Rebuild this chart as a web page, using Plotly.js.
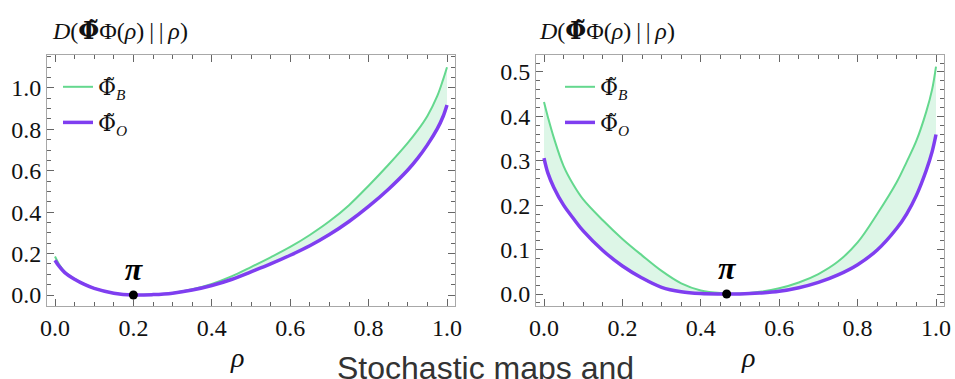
<!DOCTYPE html>
<html>
<head>
<meta charset="utf-8">
<script src="https://cdn.plot.ly/plotly-3.0.1.min.js"></script>
<style>html,body{margin:0;padding:0;background:#fff;}#chart{width:955px;height:379px;}</style>
</head>
<body>
<div id="chart"></div>
<script>
// ---- data ----
const rhoL = [0, 0.01, 0.025, 0.05, 0.075, 0.1, 0.15, 0.2, 0.25, 0.3, 0.35, 0.4, 0.45, 0.5, 0.55, 0.6, 0.65, 0.7, 0.75, 0.8, 0.85, 0.9, 0.925, 0.95, 0.975, 0.99, 1.0];
const leftB = [0.186, 0.150, 0.113, 0.078, 0.052, 0.033, 0.009, 0.0, 0.002, 0.010, 0.028, 0.054, 0.090, 0.135, 0.182, 0.232, 0.290, 0.356, 0.434, 0.528, 0.628, 0.735, 0.795, 0.865, 0.960, 1.040, 1.100];
const leftO = [0.168, 0.140, 0.108, 0.076, 0.051, 0.032, 0.009, 0.0, 0.002, 0.009, 0.024, 0.046, 0.075, 0.112, 0.150, 0.192, 0.238, 0.292, 0.355, 0.428, 0.510, 0.604, 0.660, 0.725, 0.802, 0.862, 0.918];

const rhoR = [0, 0.01, 0.025, 0.05, 0.075, 0.1, 0.15, 0.2, 0.25, 0.3, 0.35, 0.4, 0.45, 0.5, 0.55, 0.6, 0.65, 0.7, 0.75, 0.8, 0.85, 0.9, 0.925, 0.95, 0.975, 0.99, 1.0];
const rightB = [0.432, 0.398, 0.352, 0.288, 0.246, 0.213, 0.166, 0.124, 0.087, 0.052, 0.024, 0.008, 0.002, 0.001, 0.005, 0.013, 0.026, 0.045, 0.073, 0.116, 0.180, 0.252, 0.297, 0.345, 0.410, 0.460, 0.512];
const rightO = [0.306, 0.272, 0.240, 0.200, 0.170, 0.142, 0.098, 0.063, 0.036, 0.015, 0.005, 0.001, 0.0, 0.0, 0.002, 0.006, 0.014, 0.026, 0.043, 0.066, 0.099, 0.148, 0.180, 0.222, 0.278, 0.320, 0.359];

const piL = {x: [0.2], y: [0]};
const piR = {x: [0.466], y: [0]};

const PHI_T = "<span style=\"font-family:DejaVu Serif\">Φ̃</span>";
const nameB = PHI_T + "<sub><i>B</i></sub>";
const nameO = PHI_T + "<sub><i>O</i></sub>";
const yTitle = "<i>D</i>(<b>" + PHI_T + "</b>Φ(<i>ρ</i>)\u2009|\u2009|\u2009<i>ρ</i>)";
const xTitle = "<i>ρ</i>";
const piLabel = "<b><i>π</i></b>";
const caption = "Stochastic maps and";

// ---- styles ----
const GREEN = "#64d88e";
const PURPLE = "#7f3ef0";
const FILL = "rgba(120,220,160,0.25)";
const SERIF = "Liberation Serif";
const LINE_SHAPE = {shape: "spline", smoothing: 1};

function panel(x, yB, yO, xa, ya, leg) {
  return [
    // invisible band: green edge then purple edge filled back to it
    {x: x, y: yB, xaxis: xa, yaxis: ya, mode: "lines", line: Object.assign({width: 0, color: GREEN}, LINE_SHAPE),
     showlegend: false, hoverinfo: "skip"},
    {x: x, y: yO, xaxis: xa, yaxis: ya, mode: "lines", line: Object.assign({width: 0, color: PURPLE}, LINE_SHAPE),
     fill: "tonexty", fillcolor: FILL, showlegend: false, hoverinfo: "skip"},
    // visible curves
    {x: x, y: yB, xaxis: xa, yaxis: ya, mode: "lines", name: nameB, legend: leg, legendgroup: leg + "B",
     line: Object.assign({color: GREEN, width: 2}, LINE_SHAPE)},
    {x: x, y: yO, xaxis: xa, yaxis: ya, mode: "lines", name: nameO, legend: leg, legendgroup: leg + "O",
     line: Object.assign({color: PURPLE, width: 3.5}, LINE_SHAPE)}
  ];
}

function piTrace(p, xa, ya) {
  return {x: p.x, y: p.y, xaxis: xa, yaxis: ya, mode: "markers+text", text: [piLabel], textposition: "top center",
          textfont: {family: SERIF, size: 32, color: "#000"}, marker: {color: "#000", size: 9}, showlegend: false};
}

const data = [].concat(
  panel(rhoL, leftB, leftO, "x", "y", "legend"),
  panel(rhoR, rightB, rightO, "x2", "y2", "legend2"),
  [piTrace(piL, "x", "y"), piTrace(piR, "x2", "y2")]
);

function axisBase() {
  return {
    tick0: 0, tickformat: ".1f",
    ticks: "inside", ticklen: 7, tickcolor: "#666", tickwidth: 1,
    showline: true, linecolor: "#a8a8a8", linewidth: 1, mirror: "allticks",
    showgrid: false, zeroline: false,
    tickfont: {family: SERIF, size: 24, color: "#111"}
  };
}
function xax(domain, anchor) {
  return Object.assign(axisBase(), {
    domain: domain, anchor: anchor, range: [-0.0204, 1.0204], dtick: 0.2,
    minor: {dtick: 0.05, tick0: 0, ticks: "inside", ticklen: 4, tickcolor: "#666"}
  });
}
function yax(domain, range, dtick, minor, anchor) {
  return Object.assign(axisBase(), {
    domain: domain, anchor: anchor, range: range, dtick: dtick,
    minor: {dtick: minor, tick0: 0, ticks: "inside", ticklen: 4, tickcolor: "#666"}
  });
}

const yDom = [1 - 306 / 379, 1 - 55 / 379];

function legendAt(px) {
  return {x: px / 955, y: 1 - 66 / 379, xanchor: "left", yanchor: "top", bgcolor: "rgba(0,0,0,0)",
          font: {family: SERIF, size: 22, color: "#111"}, tracegroupgap: 4, itemwidth: 30};
}
function ann(text, px, py, size, family, xanchor, color) {
  return {text: text, xref: "paper", yref: "paper", x: px / 955, y: 1 - py / 379, xanchor: xanchor, yanchor: "middle",
          showarrow: false, font: {family: family, size: size, color: color || "#111"}};
}

const layout = {
  width: 955, height: 379,
  margin: {l: 0, r: 0, t: 0, b: 0},
  paper_bgcolor: "#fff", plot_bgcolor: "#fff",
  showlegend: true,
  font: {family: SERIF, size: 22, color: "#111"},
  xaxis: xax([47 / 955, 455 / 955], "y"),
  yaxis: yax(yDom, [-0.053, 1.159], 0.2, 0.05, "x"),
  xaxis2: xax([536 / 955, 944 / 955], "y2"),
  yaxis2: yax(yDom, [-0.027, 0.538], 0.1, 0.02, "x2"),
  legend: legendAt(58),
  legend2: legendAt(560),
  annotations: [
    ann(yTitle, 50, 30, 24, SERIF, "left"),
    ann(yTitle, 537, 30, 24, SERIF, "left"),
    ann(xTitle, 237, 357, 28, SERIF, "center"),
    ann(xTitle, 748, 357, 28, SERIF, "center"),
    ann(caption, 485, 368, 32, "Liberation Sans", "center", "#333")
  ]
};

Plotly.newPlot("chart", data, layout, {displayModeBar: false, staticPlot: true});
</script>
</body>
</html>
